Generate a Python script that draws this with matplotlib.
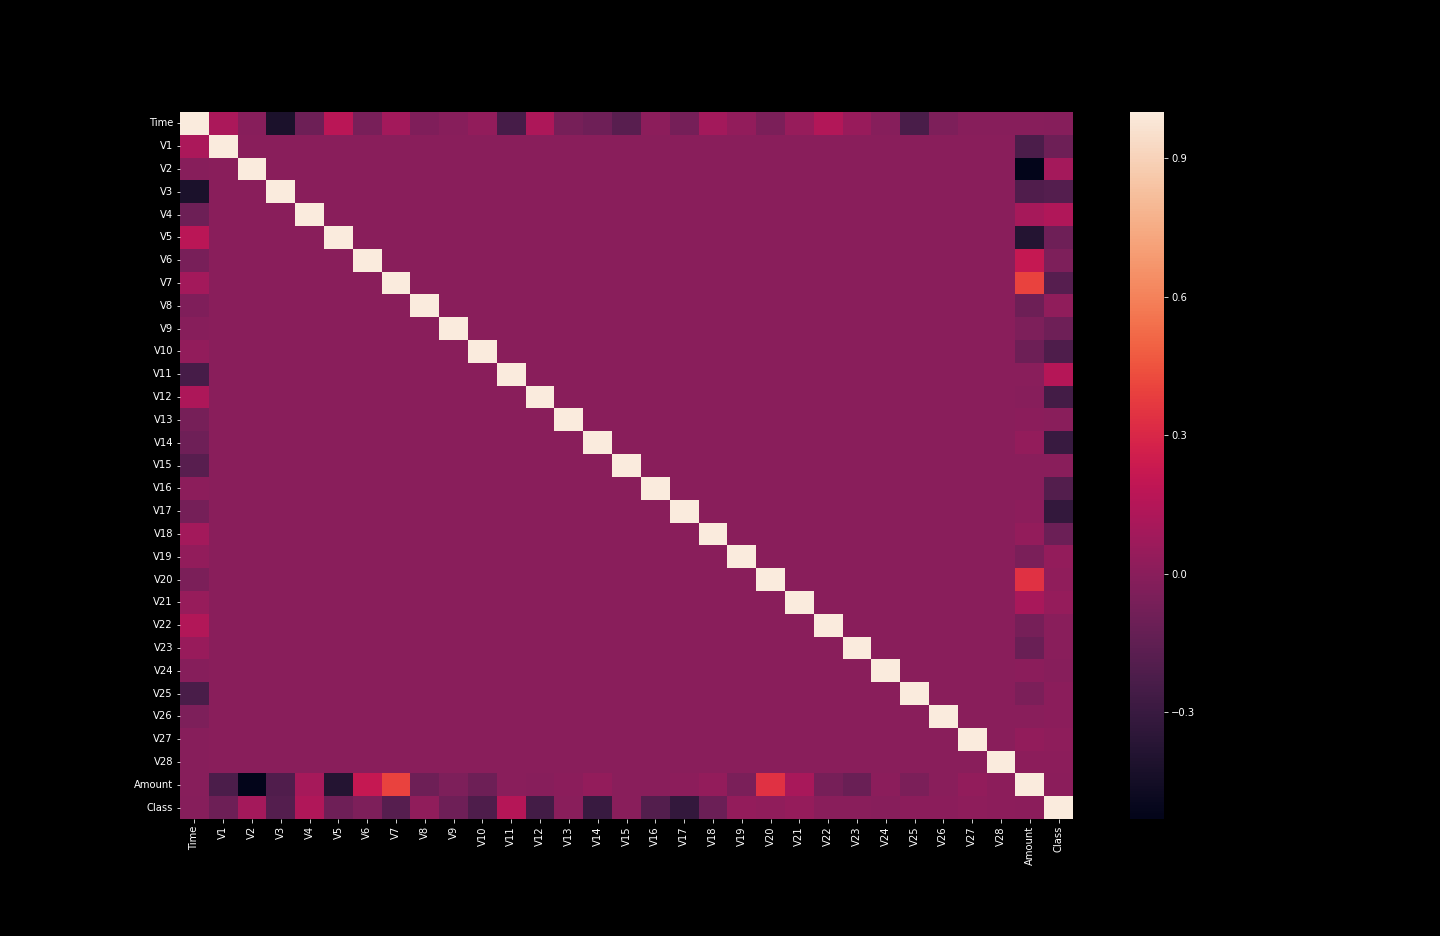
import numpy as np
import matplotlib
matplotlib.use("Agg")
import matplotlib.pyplot as plt
import seaborn as sns

labels = ["Time"] + [f"V{i}" for i in range(1, 29)] + ["Amount", "Class"]

# Correlation of Time with V1..V28
time_corr = [0.117, -0.0106, -0.420, -0.105, 0.173, -0.063, 0.085, -0.037, -0.0087, 0.0306,
             -0.248, 0.124, -0.066, -0.099, -0.183, 0.0119, -0.073, 0.090, 0.029, -0.051,
             0.045, 0.144, 0.051, -0.016, -0.233, -0.041, -0.005, -0.0094]
time_amount = -0.0106
time_class = -0.0123

# Correlation of Amount with V1..V28
amount_corr = [-0.228, -0.531, -0.211, 0.0987, -0.386, 0.216, 0.397, -0.103, -0.044, -0.1015,
               0.0001, -0.0095, 0.0053, 0.0338, -0.0030, -0.0039, 0.0073, 0.0357, -0.0564, 0.339,
               0.106, -0.0648, -0.1126, 0.0051, -0.0478, -0.0032, 0.0288, 0.0103]
amount_class = 0.0056

# Correlation of Class with V1..V28
class_corr = [-0.101, 0.0913, -0.193, 0.1334, -0.0950, -0.0436, -0.187, 0.0199, -0.0977, -0.2169,
              0.1549, -0.2606, -0.0046, -0.3025, -0.0042, -0.1965, -0.3265, -0.1115, 0.0348, 0.0201,
              0.0404, 0.0008, -0.0027, -0.0072, 0.0033, 0.0045, 0.0176, 0.0095]

n = len(labels)
corr = np.eye(n)
for i, v in enumerate(time_corr):
    corr[0, i + 1] = corr[i + 1, 0] = v
corr[0, 29] = corr[29, 0] = time_amount
corr[0, 30] = corr[30, 0] = time_class
for i, v in enumerate(amount_corr):
    corr[29, i + 1] = corr[i + 1, 29] = v
for i, v in enumerate(class_corr):
    corr[30, i + 1] = corr[i + 1, 30] = v
corr[29, 30] = corr[30, 29] = amount_class

plt.style.use("dark_background")
fig = plt.figure(figsize=(20, 13), dpi=72)
W, H = 1440, 936
ax = fig.add_axes([180 / W, (H - 819) / H, 893 / W, 707 / H])
cax = fig.add_axes([1130 / W, (H - 819) / H, 34 / W, 707 / H])

sns.heatmap(corr, ax=ax, cbar_ax=cax, xticklabels=labels, yticklabels=labels,
            cbar_kws={"ticks": [-0.3, 0.0, 0.3, 0.6, 0.9]})
cax.set_yticklabels(["\u22120.3", "0.0", "0.3", "0.6", "0.9"])
ax.tick_params(labelsize=10)
cax.tick_params(labelsize=10)
plt.setp(ax.get_xticklabels(), rotation=90)
plt.setp(ax.get_yticklabels(), rotation=0)

fig.savefig("out.png", dpi=72, facecolor="black")
